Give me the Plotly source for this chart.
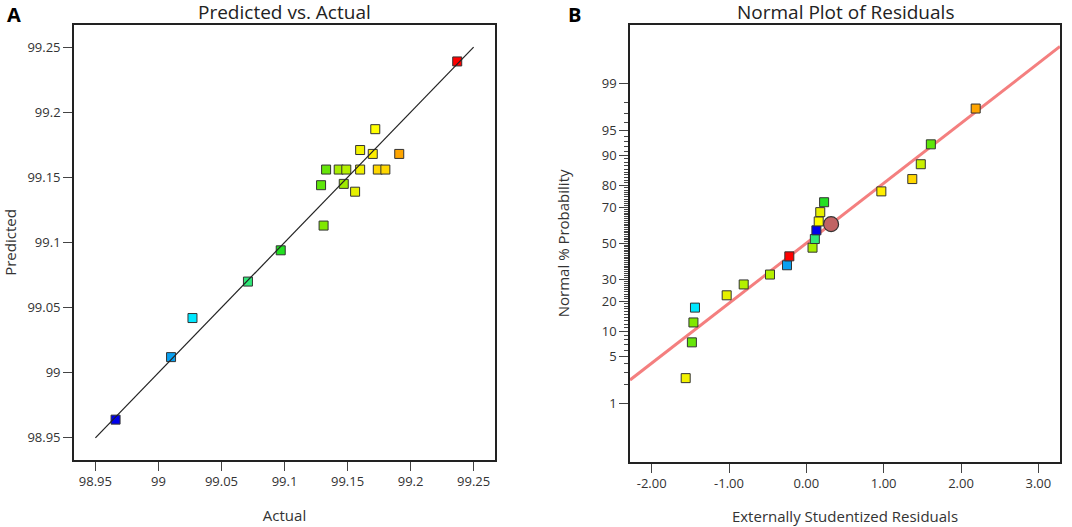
import plotly.graph_objects as go
from statistics import NormalDist

# ---------------- Panel A data: Predicted vs. Actual ----------------
actual = [99.237, 99.172, 99.160, 99.170, 99.191, 99.133, 99.143, 99.149, 99.160,
          99.174, 99.180, 99.129, 99.147, 99.156, 99.131, 99.097, 99.071, 99.027,
          99.010, 98.966]
predicted = [99.239, 99.187, 99.171, 99.168, 99.168, 99.156, 99.156, 99.156, 99.156,
             99.156, 99.156, 99.144, 99.145, 99.139, 99.113, 99.094, 99.070, 99.042,
             99.012, 98.964]
colors_a = ["#ff0000", "#ffff00", "#f2f200", "#ffee00", "#ffa500", "#66e60a", "#a8ee00",
            "#b4f000", "#f0f000", "#ffd700", "#ffd700", "#5ee60a", "#a0ea00", "#e6f000",
            "#80e800", "#22e022", "#30e878", "#00e8ff", "#0aa0f0", "#0000ee"]
ref_line = [98.95, 99.25]
ticks_a = [98.95, 99.0, 99.05, 99.1, 99.15, 99.2, 99.25]
ticktext_a = ["98.95", "99", "99.05", "99.1", "99.15", "99.2", "99.25"]

# ---------------- Panel B data: Normal Plot of Residuals ----------------
residuals = [-1.56, -1.48, -1.46, -1.44, -1.03, -0.81, -0.47, -0.25, -0.22, 0.08,
             0.11, 0.13, 0.16, 0.18, 0.23, 0.97, 1.37, 1.48, 1.61, 2.19]
probability = [2.5, 7.5, 12.5, 17.5, 22.5, 27.5, 32.5, 37.5, 42.5, 47.5,
               52.5, 57.5, 62.5, 67.5, 72.5, 77.5, 82.5, 87.5, 92.5, 97.5]
colors_b = ["#f2f200", "#66e60a", "#80e800", "#00e8ff", "#e6f000", "#b4f000", "#b4f000",
            "#0aa0f0", "#ff0000", "#a8ee00", "#30e878", "#0000ee", "#ffff00", "#e6f000",
            "#22e022", "#ffee00", "#ffd700", "#c8f000", "#5ee60a", "#ffa500"]
highlight_x = [0.32]
highlight_p = [61.0]
fit_x = [-2.28, 3.28]
fit_p = [2.35, 99.79]
major_p = [1, 5, 10, 20, 30, 50, 70, 80, 90, 95, 99]
ticks_b_x = [-2, -1, 0, 1, 2, 3]
ticktext_b_x = ["-2.00", "-1.00", "0.00", "1.00", "2.00", "3.00"]

nd = NormalDist()
def probit(p):
    return nd.inv_cdf(p / 100.0)

FONT = "Open Sans"
AXC = "#222222"
TXT = "#333333"

fig = go.Figure()

# Panel A
fig.add_trace(go.Scatter(
    x=actual, y=predicted, mode="markers", xaxis="x", yaxis="y",
    marker=dict(symbol="square", size=9, color=colors_a,
                line=dict(color="#333333", width=1)),
    showlegend=False))
fig.add_trace(go.Scatter(
    x=ref_line, y=ref_line, mode="lines", xaxis="x", yaxis="y",
    line=dict(color="#222222", width=1.2), showlegend=False))

# Panel B
fig.add_trace(go.Scatter(
    x=fit_x, y=[probit(p) for p in fit_p], mode="lines", xaxis="x2", yaxis="y2",
    line=dict(color="#f47f7f", width=3), showlegend=False))
fig.add_trace(go.Scatter(
    x=residuals, y=[probit(p) for p in probability], mode="markers",
    xaxis="x2", yaxis="y2",
    marker=dict(symbol="square", size=9, color=colors_b,
                line=dict(color="#333333", width=1)),
    showlegend=False))
fig.add_trace(go.Scatter(
    x=highlight_x, y=[probit(p) for p in highlight_p], mode="markers",
    xaxis="x2", yaxis="y2",
    marker=dict(symbol="circle", size=15, color="#c06464",
                line=dict(color="#333333", width=1.2)),
    showlegend=False))

minor_p = [p for p in range(1, 100) if p not in major_p]

common = dict(showgrid=False, zeroline=False, showline=True, mirror=True,
              linecolor=AXC, linewidth=1.6, ticks="outside", ticklen=9,
              tickcolor="#444444", tickwidth=1, automargin=False,
              tickfont=dict(family=FONT, size=13, color=TXT))
tfont = dict(family=FONT, size=15, color=TXT)

fig.update_layout(
    width=1072, height=527,
    margin=dict(l=0, r=0, t=0, b=0),
    paper_bgcolor="white", plot_bgcolor="white",
    font=dict(family=FONT, color=TXT),
    xaxis=dict(domain=[0.0690, 0.4618], range=[98.933, 99.267],
               tickmode="array", tickvals=ticks_a, ticktext=ticktext_a,
               title=dict(text="Actual", font=tfont, standoff=21),
               anchor="y", **common),
    yaxis=dict(domain=[0.1271, 0.9526], range=[98.933, 99.267],
               tickmode="array", tickvals=ticks_a, ticktext=ticktext_a,
               title=dict(text="Predicted", font=tfont, standoff=13),
               anchor="x", **common),
    xaxis2=dict(domain=[0.5877, 0.9888], range=[-2.28, 3.28],
                tickmode="array", tickvals=ticks_b_x, ticktext=ticktext_b_x,
                title=dict(text="Externally Studentized Residuals", font=tfont, standoff=20),
                anchor="y2", **common),
    yaxis2=dict(domain=[0.1239, 0.9526], range=[-3.175, 3.175],
                tickmode="array", tickvals=[probit(p) for p in major_p],
                ticktext=[str(p) for p in major_p],
                minor=dict(tickmode="array", tickvals=[probit(p) for p in minor_p],
                           ticklen=4, tickcolor="#444444", tickwidth=1, ticks="outside"),
                title=dict(text="Normal % Probability", font=tfont, standoff=28),
                anchor="x2", **common),
    annotations=[
        dict(text="Predicted vs. Actual", x=0.2654, y=1 - 12 / 527, xref="paper", yref="paper",
             xanchor="center", yanchor="middle", showarrow=False,
             font=dict(family=FONT, size=19, color="#222222")),
        dict(text="Normal Plot of Residuals", x=0.7883, y=1 - 12 / 527, xref="paper", yref="paper",
             xanchor="center", yanchor="middle", showarrow=False,
             font=dict(family=FONT, size=19, color="#222222")),
        dict(text="<b>A</b>", x=5 / 1072, y=1 - 14 / 527, xref="paper", yref="paper",
             xanchor="left", yanchor="middle", showarrow=False,
             font=dict(family=FONT, size=20, color="#000000")),
        dict(text="<b>B</b>", x=566 / 1072, y=1 - 14 / 527, xref="paper", yref="paper",
             xanchor="left", yanchor="middle", showarrow=False,
             font=dict(family=FONT, size=20, color="#000000")),
    ],
)

fig.write_html("out.html", config={"displayModeBar": False},
               post_script="document.body.style.margin='0';document.body.style.padding='0';")
